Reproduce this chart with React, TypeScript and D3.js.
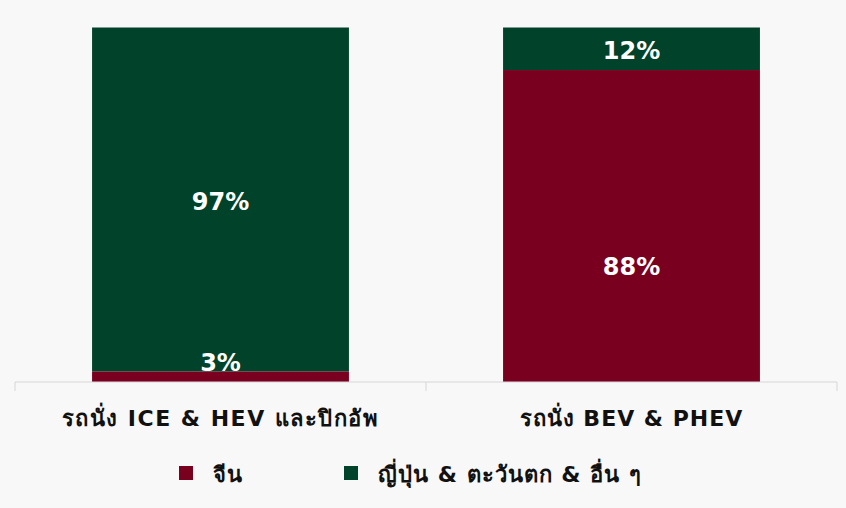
import React from "react";
import * as d3 from "d3";

const categories = ["รถนั่ง ICE & HEV และปิกอัพ", "รถนั่ง BEV & PHEV"];
const seriesNames = ["จีน", "ญี่ปุ่น & ตะวันตก & อื่น ๆ"];
const chinaValues = [3, 88];
const othersValues = [97, 12];
// label anchor positions (in % units)
const chinaLabelAt = [5.6, 32.5];
const othersLabelAt = [51, 93.5];
const colors = ["#7a0020", "#00422a"];

const W = 846;
const H = 508;

export default function App() {
  const margin = { left: 15, right: 9, top: 27.5, bottom: 126 };
  const x = d3
    .scaleBand<string>()
    .domain(categories)
    .range([margin.left, W - margin.right])
    .paddingInner(0.375)
    .paddingOuter(0.1875);
  const y = d3.scaleLinear().domain([0, 100]).range([H - margin.bottom, margin.top]);

  const rows = categories.map((c, i) => ({ cat: c, china: chinaValues[i], others: othersValues[i] }));
  const stack = d3.stack<any>().keys(["china", "others"])(rows);
  const labelAt = [chinaLabelAt, othersLabelAt];

  const axisY = y(0);
  const step = x.step();
  const ticks = [margin.left, margin.left + step, margin.left + 2 * step];

  const font = "'DejaVu Sans', 'Liberation Sans', Arial, sans-serif";

  return (
    <svg width={W} height={H} style={{ position: "absolute", left: 0, top: 0, background: "#f8f8f8" }}>
      <rect x={0} y={0} width={W} height={H} fill="#f8f8f8" />
      {stack.map((s, si) =>
        s.map((d, i) => (
          <rect
            key={`${si}-${i}`}
            x={x(categories[i])}
            width={x.bandwidth()}
            y={y(d[1])}
            height={y(d[0]) - y(d[1])}
            fill={colors[si]}
          />
        ))
      )}
      {stack.map((s, si) =>
        s.map((d, i) => (
          <text
            key={`l-${si}-${i}`}
            x={(x(categories[i]) as number) + x.bandwidth() / 2}
            y={y(labelAt[si][i])}
            dy="0.36em"
            textAnchor="middle"
            fill="#ffffff"
            fontFamily={font}
            fontWeight="bold"
            fontSize={24}
          >
            {`${d[1] - d[0]}%`}
          </text>
        ))
      )}
      <line x1={margin.left} x2={W - margin.right} y1={axisY} y2={axisY} stroke="#d6d6d6" strokeWidth={1} />
      {ticks.map((t, i) => (
        <line key={i} x1={t} x2={t} y1={axisY} y2={axisY + 9} stroke="#d6d6d6" strokeWidth={1} />
      ))}
      {categories.map((c, i) => (
        <text
          key={c}
          x={(x(c) as number) + x.bandwidth() / 2}
          y={axisY + 44}
          textAnchor="middle"
          fill="#111111"
          fontFamily={font}
          fontWeight="bold"
          fontSize={22}
          letterSpacing={i === 0 ? 1.5 : 1}
        >
          {c}
        </text>
      ))}
      {seriesNames.map((n, i) => {
        const lx = i === 0 ? 179 : 344;
        return (
          <g key={n}>
            <rect x={lx} y={466} width={14} height={14} fill={colors[i]} />
            <text
              x={lx + 34}
              y={482}
              fill="#111111"
              fontFamily={font}
              fontWeight="bold"
              fontSize={22}
              letterSpacing={1}
            >
              {n}
            </text>
          </g>
        );
      })}
    </svg>
  );
}
